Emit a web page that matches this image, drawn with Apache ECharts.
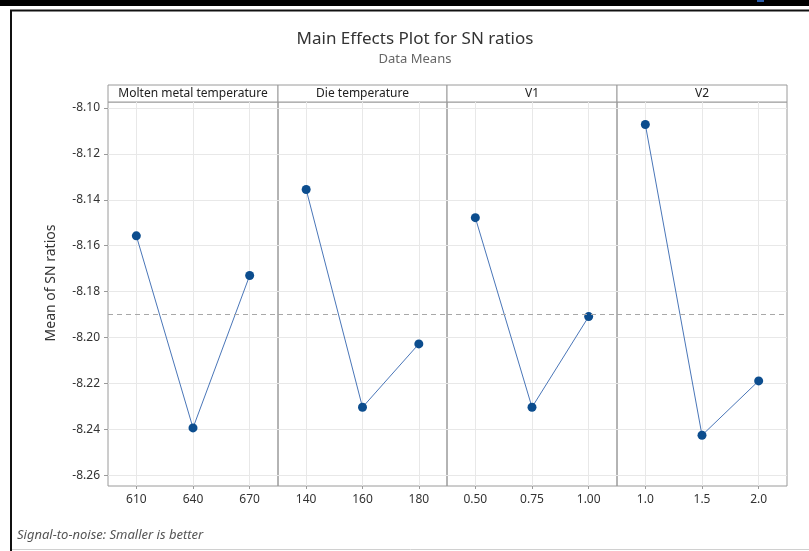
<!DOCTYPE html>
<html>
<head>
<meta charset="utf-8">
<script src="https://cdn.jsdelivr.net/npm/echarts@6/dist/echarts.min.js"></script>
<style>
    html, body {margin: 0; padding: 0; background: #fff;}
    #chart {width: 809px; height: 551px;}
</style>
</head>
<body>
<div id="chart"></div>
<script>
// Factor names shown in the panel headers
const factorNames = ['Molten metal temperature', 'Die temperature', 'V1', 'V2'];

// Level labels for each factor (x tick labels)
const moltenLevels = ['610', '640', '670'];
const dieLevels = ['140', '160', '180'];
const v1Levels = ['0.50', '0.75', '1.00'];
const v2Levels = ['1.0', '1.5', '2.0'];

// Mean of SN ratios
const moltenMeans = [-8.1557, -8.2394, -8.1730];
const dieMeans = [-8.1355, -8.2304, -8.2028];
const v1Means = [-8.1478, -8.2304, -8.1909];
const v2Means = [-8.1072, -8.2426, -8.2189];

// Overall mean (dashed reference line)
const overallMean = -8.1898;

const levels = [moltenLevels, dieLevels, v1Levels, v2Levels];
const means = [moltenMeans, dieMeans, v1Means, v2Means];

// Layout of the panels
const panelEdges = [108, 278, 447, 617, 787];
const plotTop = 102;
const plotBottom = 486;
const headerTop = 85;

const font = '"Noto Sans", "Open Sans", sans-serif';
const yMin = -8.2647;
const yMax = -8.0974;

// Each panel uses 7 slots so the levels sit at 1/6, 1/2 and 5/6 of its width
function slotCategories(lv) {
    return ['', lv[0], '', lv[1], '', lv[2], ''];
}

function isLevelSlot(index) {
    return index % 2 === 1;
}

let grids = [];
let xAxes = [];
let yAxes = [];
let series = [];
let graphics = [];

for (let i = 0; i < 4; i++) {
    let left = panelEdges[i];
    let width = panelEdges[i + 1] - panelEdges[i];

    grids.push({
        left: left,
        top: plotTop,
        width: width,
        height: plotBottom - plotTop,
        show: true,
        borderColor: '#9a9a9a',
        borderWidth: 1
    });

    xAxes.push({
        type: 'category',
        gridIndex: i,
        boundaryGap: false,
        data: slotCategories(levels[i]),
        axisLine: {show: false},
        axisTick: {show: true, interval: isLevelSlot, length: 3, lineStyle: {color: '#9a9a9a'}},
        axisLabel: {
            interval: isLevelSlot,
            margin: 8,
            color: '#333',
            fontSize: 12,
            fontFamily: font
        },
        splitLine: {show: true, interval: isLevelSlot, lineStyle: {color: '#e8e8e8'}}
    });

    yAxes.push({
        type: 'value',
        gridIndex: i,
        min: yMin,
        max: yMax,
        splitNumber: 8,
        name: i === 0 ? 'Mean of SN ratios' : '',
        nameLocation: 'middle',
        nameGap: 50,
        nameTextStyle: {
            fontSize: 14,
            color: '#333',
            fontFamily: font,
            padding: [0, 0, 0, 22]
        },
        axisLine: {show: false},
        axisTick: {show: i === 0, length: 4, lineStyle: {color: '#9a9a9a'}},
        axisLabel: {
            show: i === 0,
            showMinLabel: false,
            showMaxLabel: false,
            margin: 8,
            color: '#333',
            fontSize: 12,
            fontFamily: font,
            formatter: v => v.toFixed(2)
        },
        splitLine: {show: true, showMinLine: false, showMaxLine: false, lineStyle: {color: '#e8e8e8'}}
    });

    series.push({
        type: 'line',
        xAxisIndex: i,
        yAxisIndex: i,
        data: means[i].map((v, k) => [2 * k + 1, v]),
        symbol: 'circle',
        symbolSize: 9,
        lineStyle: {color: '#4a76b8', width: 1},
        itemStyle: {color: '#0c4d8e'},
        z: 3,
        markLine: {
            silent: true,
            symbol: 'none',
            label: {show: false},
            lineStyle: {type: [5, 4], color: '#a8a8a8', width: 1},
            data: [{yAxis: overallMean}]
        }
    });

    // Panel header strip
    graphics.push({
        type: 'rect',
        shape: {x: left, y: headerTop, width: width, height: plotTop - headerTop},
        style: {fill: '#fff', stroke: '#9a9a9a', lineWidth: 1}
    });
    graphics.push({
        type: 'text',
        x: left + width / 2,
        y: (headerTop + plotTop) / 2 + 0.5,
        style: {
            text: factorNames[i],
            align: 'center',
            verticalAlign: 'middle',
            fontSize: 12,
            fill: '#222',
            fontFamily: font
        }
    });
}

// Outer frame of the picture
graphics.push({type: 'rect', shape: {x: 0, y: 0, width: 809, height: 6}, style: {fill: '#000'}});
graphics.push({type: 'rect', shape: {x: 757, y: 0, width: 7, height: 2}, style: {fill: '#2a5caa'}});
graphics.push({type: 'line', shape: {x1: 10, y1: 10.5, x2: 809, y2: 10.5}, style: {stroke: '#111', lineWidth: 2}});
graphics.push({type: 'line', shape: {x1: 11, y1: 10, x2: 11, y2: 551}, style: {stroke: '#111', lineWidth: 2}});
graphics.push({type: 'line', shape: {x1: 12, y1: 549.5, x2: 809, y2: 549.5}, style: {stroke: '#d0d0d0', lineWidth: 1}});

// Footnote
graphics.push({
    type: 'text',
    x: 17,
    y: 535,
    style: {
        text: 'Signal-to-noise: Smaller is better',
        fontSize: 13,
        fontStyle: 'italic',
        fill: '#555',
        verticalAlign: 'middle',
        fontFamily: font
    }
});

let myChart = echarts.init(document.getElementById('chart'));

let option = {
    animation: false,
    backgroundColor: '#fff',
    title: {
        text: 'Main Effects Plot for SN ratios',
        subtext: 'Data Means',
        left: 415,
        top: 31,
        padding: 0,
        textAlign: 'center',
        itemGap: 5,
        textStyle: {fontSize: 17, fontWeight: 'normal', color: '#333', fontFamily: font},
        subtextStyle: {fontSize: 13, color: '#666', fontFamily: font}
    },
    grid: grids,
    xAxis: xAxes,
    yAxis: yAxes,
    series: series,
    graphic: graphics
};

myChart.setOption(option);
</script>
</body>
</html>
